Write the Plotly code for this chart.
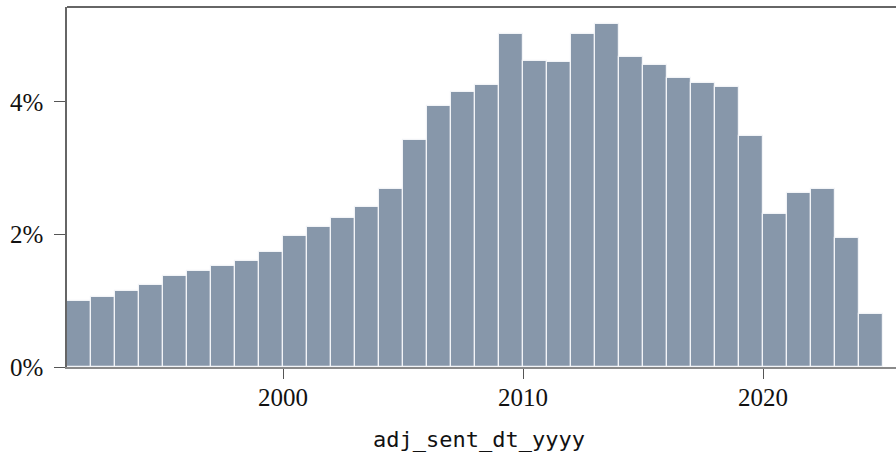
import plotly.graph_objects as go

years = list(range(1991, 2025))
pct = [0.99, 1.05, 1.15, 1.23, 1.38, 1.45, 1.52, 1.60, 1.74, 1.97,
       2.11, 2.24, 2.42, 2.69, 3.43, 3.94, 4.15, 4.26, 5.02, 4.61,
       4.60, 5.03, 5.17, 4.67, 4.55, 4.36, 4.29, 4.23, 3.49, 2.31,
       2.62, 2.69, 1.94, 0.80]
y_ticks = [0, 2, 4]
y_tick_labels = ["0%", "2%", "4%"]
x_ticks = [2000, 2010, 2020]
x_tick_labels = ["2000", "2010", "2020"]
x_title = "adj_sent_dt_yyyy"

serif = "Liberation Serif"
mono = "DejaVu Sans Mono"

fig = go.Figure()
fig.add_trace(go.Bar(
    x=[y + 0.5 for y in years],
    y=pct,
    width=1.0,
    marker=dict(color="#8797aa", line=dict(color="#f2f4f7", width=1.2)),
    hoverinfo="skip",
))

fig.update_layout(
    width=896, height=452,
    margin=dict(l=67, r=0, t=7, b=85, autoexpand=False),
    paper_bgcolor="white", plot_bgcolor="white",
    showlegend=False,
    bargap=0,
    xaxis=dict(
        range=[1991, 2025.54],
        automargin=False,
        tickmode="array", tickvals=x_ticks, ticktext=x_tick_labels,
        ticks="outside", ticklen=10, tickcolor="#555555", tickwidth=1,
        showline=True, linecolor="#8a8a8a", linewidth=1.5,
        showgrid=False, zeroline=False,
        tickfont=dict(family=serif, size=25, color="#111111"),
        ticklabelstandoff=-3,
    ),
    yaxis=dict(
        range=[0, 5.43],
        automargin=False,
        tickmode="array", tickvals=y_ticks, ticktext=y_tick_labels,
        ticks="outside", ticklen=11, tickcolor="#555555", tickwidth=1,
        showline=True, linecolor="#666666", linewidth=1.5,
        showgrid=False, zeroline=False,
        tickfont=dict(family=serif, size=25, color="#111111"),
        ticklabelstandoff=6,
    ),
    shapes=[dict(type="line", xref="paper", yref="paper", x0=0, x1=1, y0=1, y1=1,
                 line=dict(color="#333333", width=1.5))],
    annotations=[dict(text=x_title, xref="paper", yref="paper", x=0.497, y=-0.2,
                      xanchor="center", yanchor="middle", showarrow=False,
                      font=dict(family=mono, size=22, color="#111111"))],
)

fig.write_html(
    "out.html",
    config={"displayModeBar": False},
    post_script="document.body.style.margin='0';document.body.style.overflow='hidden';",
)
